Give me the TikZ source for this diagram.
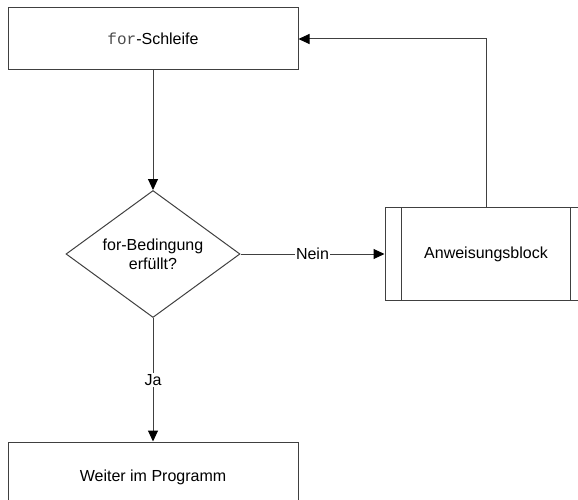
\documentclass[tikz,border=0pt]{standalone}
\usepackage{fontspec}
\setmainfont{Liberation Sans}
\setmonofont{Liberation Mono}
\usetikzlibrary{shapes.geometric,arrows.meta}

\definecolor{linegray}{HTML}{404040}

\tikzset{
  flowline/.style={draw=linegray, line width=1pt},
  flowarrow/.style={flowline, -{Triangle[length=11pt,width=10pt,fill=black,color=black]}},
  stepbox/.style={draw=linegray, line width=1pt, rectangle, inner sep=0pt,
    font=\fontsize{16}{19}\selectfont, text=black},
  decision/.style={draw=linegray, line width=1pt, diamond, inner sep=0pt,
    minimum width=174pt, minimum height=127pt, aspect=1.37,
    align=center, font=\fontsize{16}{19}\selectfont, text=black},
  edgelabel/.style={fill=white, inner sep=1.5pt,
    font=\fontsize{16}{19}\selectfont, text=black}
}

\begin{document}
\begin{tikzpicture}[x=1pt,y=-1pt]
  \useasboundingbox (0,0) rectangle (578,500);
  \clip (0,0) rectangle (578,500);

  % loop head
  \node[stepbox, minimum width=290pt, minimum height=62pt] (head) at (153,39)
    {\texttt{\color{black!70}for}-Schleife};

  % loop condition
  \node[decision] (cond) at (153,254) {for-Bedingung\\erfüllt?};

  % loop body (predefined process: double side bars)
  \node[stepbox, minimum width=202pt, minimum height=93pt] (body) at (486,254)
    {Anweisungsblock};
  \draw[flowline] ([xshift=17pt]body.north west) -- ([xshift=17pt]body.south west);
  \draw[flowline] ([xshift=-17pt]body.north east) -- ([xshift=-17pt]body.south east);

  % continuation after the loop
  \node[stepbox, minimum width=290pt, minimum height=70pt] (next) at (153,477)
    {Weiter im Programm};

  % connectors
  \draw[flowarrow] (head.south) -- (cond.north);
  \draw[flowarrow] (cond.east) -- node[edgelabel] {Nein} (body.west);
  \draw[flowarrow] (cond.south) -- node[edgelabel] {Ja} (next.north);
  \draw[flowarrow] (body.north) |- (head.east);
\end{tikzpicture}
\end{document}
